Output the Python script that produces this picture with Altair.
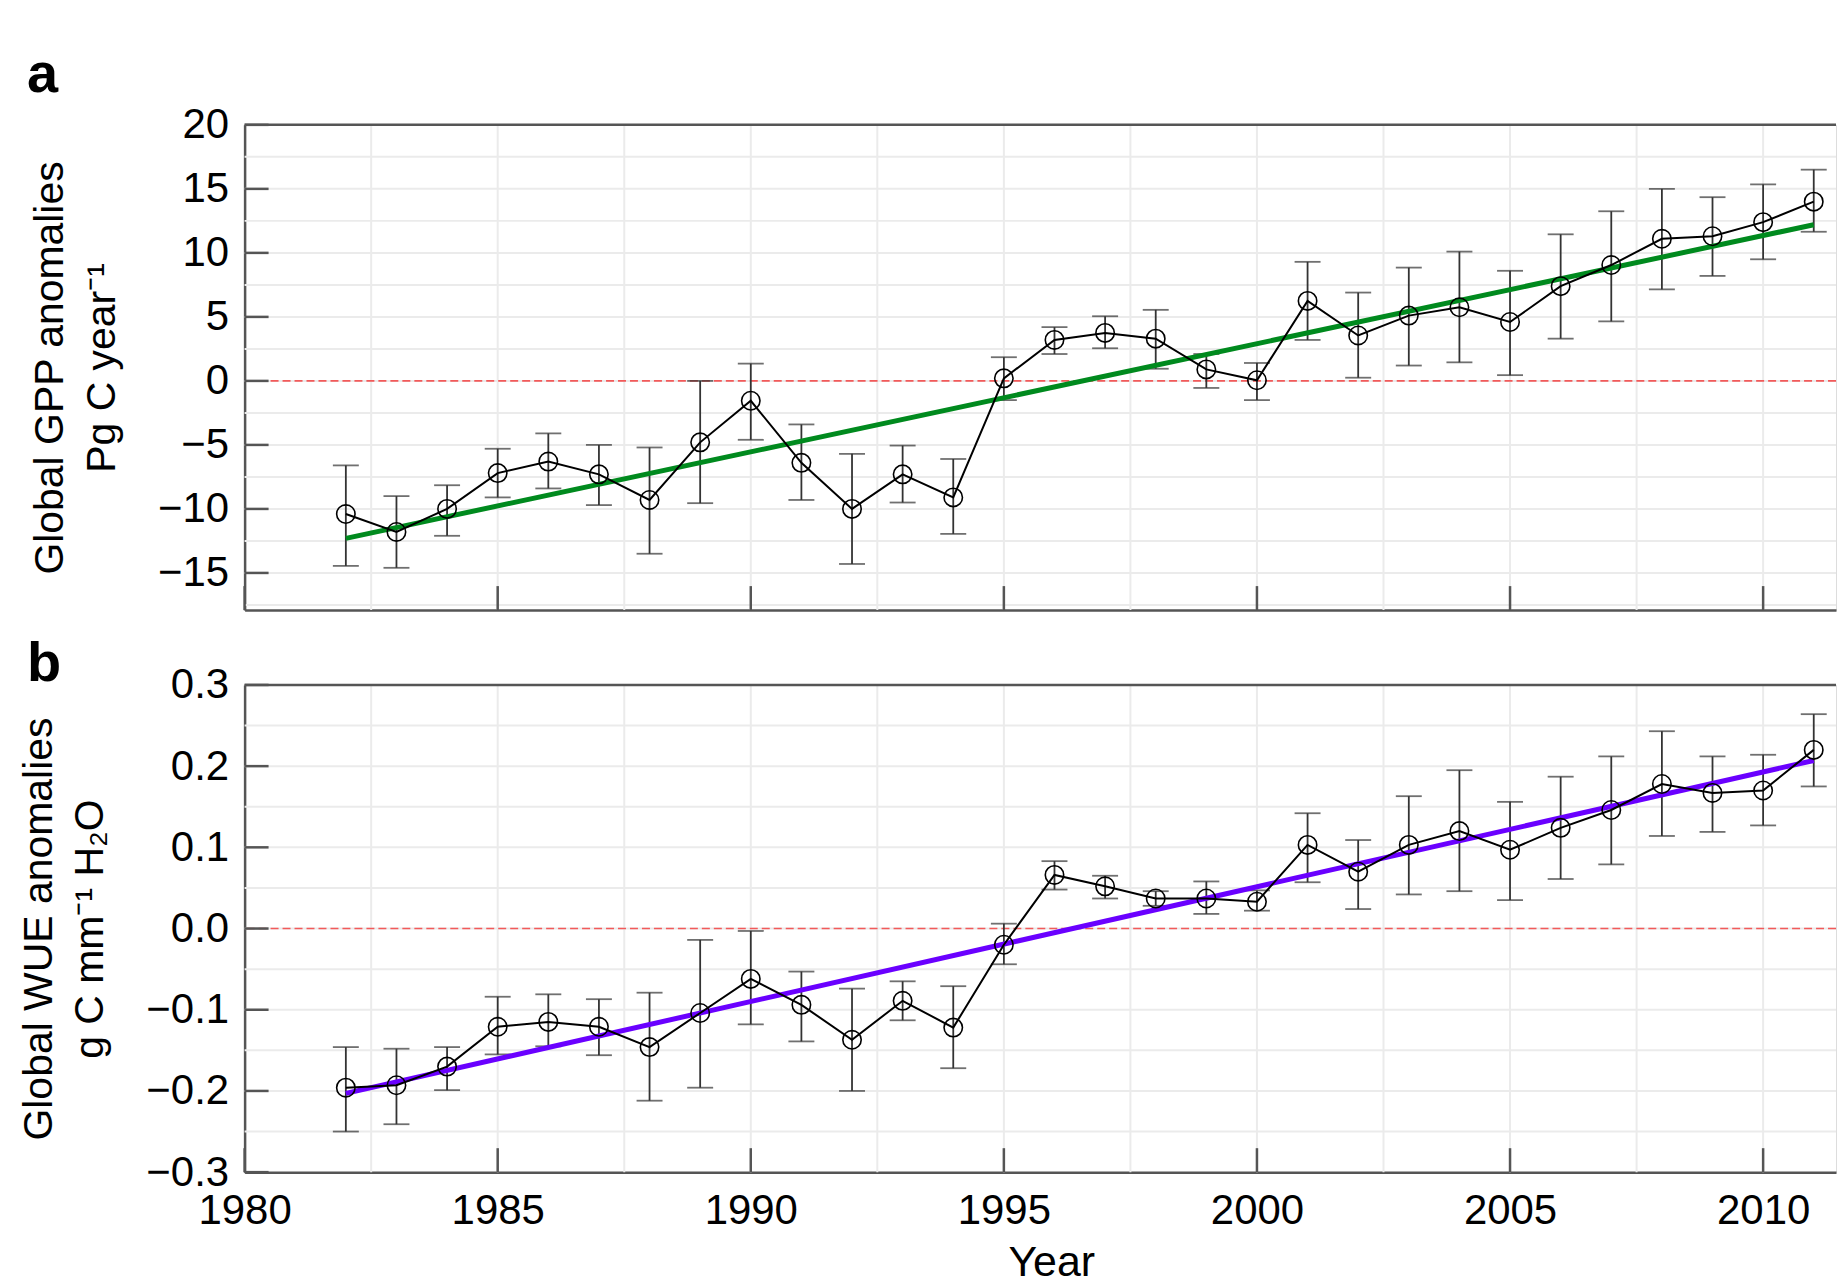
import altair as alt
import pandas as pd

# ---------------- data ----------------
years = list(range(1982, 2012))

gpp = [-10.4, -11.8, -10.0, -7.2, -6.3, -7.3, -9.3, -4.8, -1.55, -6.4,
       -10.0, -7.3, -9.1, 0.2, 3.2, 3.75, 3.3, 0.9, 0.05, 6.25,
       3.55, 5.1, 5.75, 4.6, 7.4, 9.05, 11.1, 11.3, 12.4, 14.0]
gpp_hi = [-6.6, -9.0, -8.15, -5.3, -4.1, -5.0, -5.2, 0.0, 1.35, -3.4,
          -5.7, -5.05, -6.1, 1.85, 4.2, 5.05, 5.55, 2.1, 1.4, 9.3,
          6.9, 8.85, 10.1, 8.6, 11.45, 13.25, 15.0, 14.35, 15.35, 16.5]
gpp_lo = [-14.45, -14.6, -12.1, -9.1, -8.4, -9.7, -13.5, -9.55, -4.6, -9.3,
          -14.3, -9.5, -11.95, -1.5, 2.1, 2.55, 0.95, -0.55, -1.5, 3.2,
          0.25, 1.2, 1.45, 0.45, 3.3, 4.65, 7.15, 8.2, 9.5, 11.65]

wue = [-0.196, -0.193, -0.170, -0.121, -0.115, -0.121, -0.146, -0.104, -0.062, -0.094,
       -0.137, -0.089, -0.122, -0.020, 0.066, 0.052, 0.037, 0.037, 0.033, 0.103,
       0.070, 0.103, 0.120, 0.097, 0.124, 0.146, 0.178, 0.167, 0.170, 0.220]
wue_hi = [-0.146, -0.148, -0.146, -0.084, -0.081, -0.087, -0.079, -0.014, -0.003, -0.053,
          -0.074, -0.065, -0.071, 0.006, 0.083, 0.065, 0.046, 0.058, 0.047, 0.142,
          0.109, 0.163, 0.195, 0.156, 0.187, 0.212, 0.243, 0.212, 0.214, 0.264]
wue_lo = [-0.250, -0.241, -0.199, -0.155, -0.145, -0.156, -0.212, -0.196, -0.118, -0.139,
          -0.200, -0.113, -0.172, -0.044, 0.048, 0.037, 0.028, 0.018, 0.022, 0.057,
          0.024, 0.042, 0.046, 0.035, 0.061, 0.079, 0.114, 0.119, 0.127, 0.175]

trend_years = [1982, 2011]
gpp_trend = [-12.3, 12.2]
wue_trend = [-0.203, 0.207]

x_ticks = [1980, 1985, 1990, 1995, 2000, 2005, 2010]
x_grid = [1982.5, 1985, 1987.5, 1990, 1992.5, 1995, 1997.5, 2000, 2002.5,
          2005, 2007.5, 2010]
gpp_ticks = [-15, -10, -5, 0, 5, 10, 15, 20]
gpp_grid = [-17.5, -15, -12.5, -10, -7.5, -5, -2.5, 0, 2.5, 5, 7.5, 10, 12.5, 15, 17.5]
wue_ticks = [-0.3, -0.2, -0.1, 0.0, 0.1, 0.2, 0.3]
wue_grid = [-0.25, -0.2, -0.15, -0.1, -0.05, 0.0, 0.05, 0.1, 0.15, 0.2, 0.25]
zero = [0.0]

# ---------------- layout constants ----------------
W = 1594
FONT = "Liberation Sans"
BORDER = "#555555"
GRID = "#ebebeb"
TICK_LEN = 24


def panel(vals, hi, lo, trend, trend_color, ydom, yticks, ygrid, fmt,
          ytitle, letter, letter_offset, H, show_x):
    df = pd.DataFrame({"year": years, "v": vals, "hi": hi, "lo": lo})
    tdf = pd.DataFrame({"year": trend_years, "v": trend})
    gx = pd.DataFrame({"year": x_grid})
    gy = pd.DataFrame({"v": ygrid})
    tx = pd.DataFrame({"year": x_ticks})
    ty = pd.DataFrame({"v": yticks})
    zdf = pd.DataFrame({"v": zero})

    xscale = alt.Scale(domain=[1980, 1980 + W / 50.7], nice=False, zero=False)
    yscale = alt.Scale(domain=ydom, nice=False, zero=False)

    if show_x:
        xaxis = alt.Axis(values=x_ticks, format="d", labelFontSize=42, labelColor="black",
                         labelFont=FONT, labelPadding=18, ticks=False, grid=False,
                         domain=True, domainColor=BORDER, domainWidth=2.5,
                         title="Year", titleFontSize=43, titleFont=FONT,
                         titleFontWeight="normal", titleColor="black",
                         titleX=808, titlePadding=11, labelFlush=False)
    else:
        xaxis = alt.Axis(labels=False, ticks=False, grid=False, domain=True,
                         domainColor=BORDER, domainWidth=2.5, title=None)
    yaxis = alt.Axis(values=yticks, format=fmt, labelFontSize=42, labelColor="black",
                     labelFont=FONT, labelPadding=16, ticks=False, grid=False,
                     domain=True, domainColor=BORDER, domainWidth=2.5,
                     title=ytitle, titleFontSize=41, titleFont=FONT,
                     titleFontWeight="normal", titleColor="black",
                     titleLineHeight=52, titlePadding=34, labelFlush=False)

    X = lambda f="year": alt.X(f"{f}:Q", scale=xscale, axis=xaxis)
    Y = lambda f="v": alt.Y(f"{f}:Q", scale=yscale, axis=yaxis)

    vgrid = alt.Chart(gx).mark_rule(color=GRID, strokeWidth=2).encode(x=X())
    hgrid = alt.Chart(gy).mark_rule(color=GRID, strokeWidth=2).encode(y=Y())
    zline = alt.Chart(zdf).mark_rule(color="#f25a5a", strokeWidth=1.6,
                                     strokeDash=[8, 4]).encode(y=Y())
    top = alt.Chart(zdf).mark_rule(color=BORDER, strokeWidth=2.5).encode(
        x=alt.value(0), x2=alt.value(W), y=alt.value(0))
    xt = alt.Chart(tx).mark_rule(color=BORDER, strokeWidth=2.5).encode(
        x=X(), y=alt.value(H), y2=alt.value(H - TICK_LEN))
    yt = alt.Chart(ty).mark_rule(color=BORDER, strokeWidth=2.5).encode(
        y=Y(), x=alt.value(0), x2=alt.value(TICK_LEN))

    base = alt.Chart(df)
    err = base.mark_rule(color="#333333", strokeWidth=1.8).encode(
        x=X(), y=Y("lo"), y2="hi:Q")
    cap_hi = base.mark_tick(orient="horizontal", size=26, thickness=1.8,
                            color="#333333").encode(x=X(), y=Y("hi"))
    cap_lo = base.mark_tick(orient="horizontal", size=26, thickness=1.8,
                            color="#333333").encode(x=X(), y=Y("lo"))
    tline = alt.Chart(tdf).mark_line(color=trend_color, strokeWidth=5).encode(
        x=X(), y=Y())
    line = base.mark_line(color="black", strokeWidth=2).encode(x=X(), y=Y())
    pts = base.mark_point(shape="circle", filled=False, size=340, strokeWidth=1.6,
                          color="black", opacity=1).encode(x=X(), y=Y())

    return alt.layer(vgrid, hgrid, zline, err, cap_hi, cap_lo, tline, line, pts,
                     xt, yt, top).properties(
        width=W, height=H,
        title=alt.Title(letter, anchor="start", frame="group", fontSize=56,
                        fontWeight="bold", font=FONT, color="black",
                        dx=-218, offset=letter_offset, baseline="alphabetic"))


pa = panel(gpp, gpp_hi, gpp_lo, gpp_trend, "#008a1e", [-17.9, 20], gpp_ticks,
           gpp_grid, "d", ["Global GPP anomalies", "Pg C year⁻¹"], "a", -44, 486, False)
pb = panel(wue, wue_hi, wue_lo, wue_trend, "#6a00ff", [-0.3, 0.3], wue_ticks,
           wue_grid, ".1f", ["Global WUE anomalies", "g C mm⁻¹ H₂O"], "b", -73, 488, True)

chart = alt.vconcat(pa, pb, spacing=23).properties(
    padding={"left": 9, "top": 37, "right": 0, "bottom": 0}
).configure_view(stroke=None).configure(font=FONT)

chart.save("out.html", embed_options={"renderer": "svg", "actions": False})
